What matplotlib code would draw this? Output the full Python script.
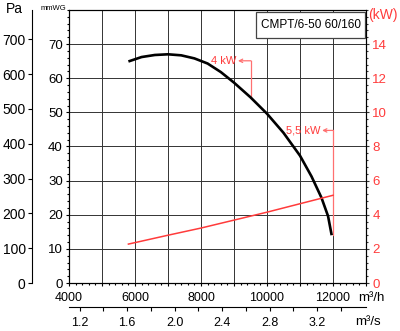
import matplotlib
matplotlib.use("Agg")
import matplotlib.pyplot as plt
from matplotlib.ticker import FixedLocator, MultipleLocator, FuncFormatter
from matplotlib.patches import Rectangle

plt.rcParams["font.family"] = ["Liberation Sans", "DejaVu Sans"]

# fan curve (m3/h -> mmWG)
flow_fan = [5800, 6200, 6600, 7000, 7400, 7800, 8200, 8600, 9000, 9500,
            10000, 10500, 11000, 11350, 11650, 11850, 11960]
press_fan = [64.9, 66.2, 66.8, 67.0, 66.7, 65.8, 64.3, 61.8, 58.7, 54.4,
             49.6, 44.0, 37.3, 31.2, 25.0, 19.6, 14.0]

# absorbed power (m3/h -> kW)
flow_kw = [5800, 7000, 8000, 10000, 12000]
power_kw = [2.28, 2.80, 3.22, 4.15, 5.14]

# motor markers: label, flow, pressure on curve, arrow level (mmWG), arrow tip flow
motor_labels = ["4 kW", "5,5 kW"]
motor_flow = [9515, 12000]
motor_press = [54.3, 14.0]
motor_arrow_y = [65.1, 44.7]
motor_arrow_tip = [9120, 11670]

model_name = "CMPT/6-50 60/160"

RED = "#ff3b3b"
LIGHT_RED = "#ff7070"
PA_PER_MMWG = 9.80665

fig = plt.figure(figsize=(4, 3.31), dpi=100)
ax = fig.add_axes([0.1725, 0.145, 0.7425, 0.825])

ax.set_xlim(4000, 13000)
ax.set_ylim(0, 80)

ax.xaxis.set_major_locator(MultipleLocator(1000))
ax.xaxis.set_minor_locator(MultipleLocator(200))
ax.xaxis.set_major_formatter(FuncFormatter(
    lambda v, p: f"{int(v)}" if int(v) % 2000 == 0 and v < 13000 else ""))
ax.yaxis.set_major_locator(FixedLocator(range(0, 80, 10)))
ax.yaxis.set_minor_locator(MultipleLocator(2))

ax.grid(True, which="major", color="#333333", linewidth=0.7)
ax.tick_params(axis="both", which="major", direction="out", length=2.5,
               width=0.8, labelsize=9.5, pad=2)
ax.tick_params(axis="x", which="major", labelsize=9, pad=4)
ax.tick_params(axis="both", which="minor", direction="out", length=1.5, width=0.8)
for s in ax.spines.values():
    s.set_linewidth(0.8)

ax.plot(flow_fan, press_fan, color="black", linewidth=1.9, zorder=4,
        solid_joinstyle="round", solid_capstyle="butt")

# motor power markers
for lab, fx, fp, ay, tip in zip(motor_labels, motor_flow, motor_press,
                                motor_arrow_y, motor_arrow_tip):
    ax.plot([fx, fx], [fp, ay], color=LIGHT_RED, linewidth=0.9, zorder=3)
    ax.annotate("", xy=(tip, ay), xytext=(fx, ay),
                arrowprops=dict(arrowstyle="->", color=LIGHT_RED, lw=0.9,
                                shrinkA=0, shrinkB=0, mutation_scale=6))
    ax.text(tip - 40, ay, lab, color=RED, fontsize=8, ha="right", va="center")

# model box
ax.add_patch(Rectangle((0.63, 0.897), 0.367, 0.096, transform=ax.transAxes,
                       facecolor="white", edgecolor="#444444", linewidth=0.9,
                       zorder=5))
ax.text(0.8135, 0.945, model_name, transform=ax.transAxes, fontsize=8.5,
        ha="center", va="center", zorder=6)

# kW axis
ax_kw = ax.twinx()
ax_kw.set_ylim(0, 16)
ax_kw.yaxis.set_major_locator(FixedLocator(range(0, 16, 2)))
ax_kw.yaxis.set_minor_locator(MultipleLocator(0.4))
ax_kw.tick_params(axis="y", which="major", direction="out", length=2.5,
                  width=0.8, labelsize=9.5, colors="#333333", pad=2)
ax_kw.tick_params(axis="y", which="minor", direction="out", length=1.5,
                  width=0.8, colors="#333333")
ax_kw.tick_params(axis="y", labelcolor=RED)
for s in ax_kw.spines.values():
    s.set_linewidth(0.8)
ax_kw.plot(flow_kw, power_kw, color=RED, linewidth=1.1)

# Pa axis
ax_pa = ax.secondary_yaxis(-37 / 297, functions=(lambda m: m * PA_PER_MMWG,
                                                 lambda p: p / PA_PER_MMWG))
ax_pa.set_yticks(range(0, 800, 100))
ax_pa.tick_params(axis="y", direction="out", length=3, width=0.8,
                  labelsize=10, pad=1.5)
ax_pa.spines["left"].set_linewidth(0.8)

# m3/s axis
ax_s = ax.secondary_xaxis(-24 / 273, functions=(lambda h: h / 3600.0,
                                                lambda s: s * 3600.0))
ax_s.set_xticks([1.2, 1.6, 2.0, 2.4, 2.8, 3.2])
ax_s.xaxis.set_major_formatter(FuncFormatter(lambda v, p: f"{v:.1f}"))
ax_s.xaxis.set_minor_locator(FixedLocator([1.4, 1.8, 2.2, 2.6, 3.0, 3.4]))
ax_s.tick_params(axis="x", which="both", direction="out", length=3,
                 width=0.8, labelsize=9, pad=4)
ax_s.spines["bottom"].set_linewidth(0.8)

# unit labels
fig.text(14.5 / 400, 1 - 9 / 331, "Pa", fontsize=10, ha="center", va="center")
fig.text(53 / 400, 1 - 8 / 331, "mmWG", fontsize=5.5, ha="center", va="center")
fig.text(383 / 400, 1 - 15 / 331, "(kW)", fontsize=10, color=RED,
         ha="center", va="center")
fig.text(371 / 400, 1 - 298 / 331, "m³/h", fontsize=9.5, ha="center", va="center")
fig.text(368 / 400, 1 - 322 / 331, "m³/s", fontsize=9.5, ha="center", va="center")

fig.savefig("out.png", dpi=100)
